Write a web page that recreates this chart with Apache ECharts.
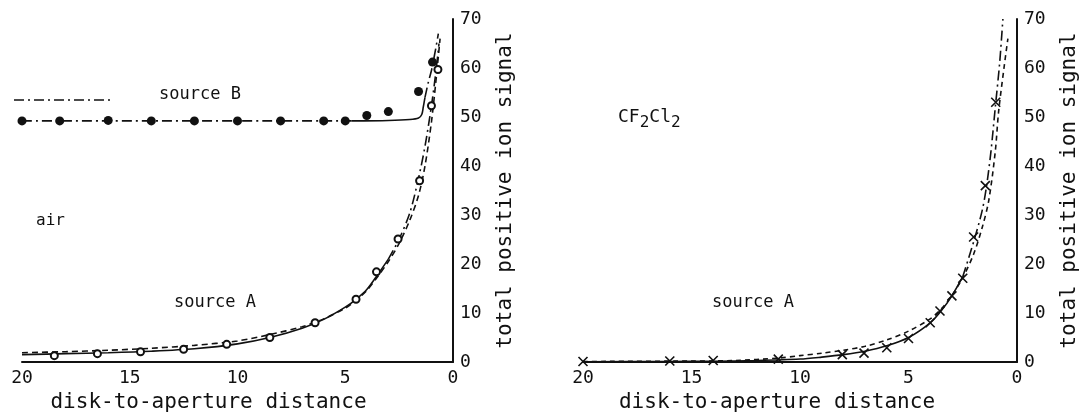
<!DOCTYPE html>
<html>
<head>
<meta charset="utf-8">
<script src="https://cdn.jsdelivr.net/npm/echarts@6/dist/echarts.min.js"></script>
<style>
  html, body { margin: 0; padding: 0; background: #fff; }
  #chart { width: 1080px; height: 412px; }
</style>
</head>
<body>
<div id="chart"></div>
<script>
// axis ticks (distance runs 20 -> 0, signal 0 -> 70)
const xTicks = [0, 5, 10, 15, 20];
const yTicks = [0, 10, 20, 30, 40, 50, 60, 70];

// left panel: air, source B (filled circles)
const airBX = [20, 18.25, 16, 14, 12, 10, 8, 6, 5, 4, 3, 1.6, 0.95];
const airBY = [49.2, 49.2, 49.3, 49.2, 49.2, 49.2, 49.2, 49.2, 49.2, 50.3, 51.1, 55.2, 61.2];
// source B fitted curve (dash-dot part, solid part, dash-dot top)
const airBFit1X = [20, 4.7];
const airBFit1Y = [49.2, 49.2];
const airBFit2X = [4.7, 3, 2, 1.6, 1.45, 1.38, 1.3];
const airBFit2Y = [49.2, 49.3, 49.5, 49.8, 50.5, 52, 54];
const airBFit3X = [1.3, 1.15, 1.0, 0.93, 0.8, 0.68];
const airBFit3Y = [54, 57, 59.5, 61, 64, 67];

// left panel: air, source A (open circles)
const airAX = [18.5, 16.5, 14.5, 12.5, 10.5, 8.5, 6.4, 4.5, 3.55, 2.55, 1.55, 1.0, 0.7];
const airAY = [1.3, 1.7, 2.1, 2.6, 3.6, 5.0, 8.0, 12.8, 18.4, 25.1, 37.0, 52.3, 59.7];
// source A curves
const airASolidX = [20, 18, 16, 14, 12, 10, 8.5, 7, 6, 5, 4.5, 4, 3.5, 3];
const airASolidY = [1.5, 1.7, 1.9, 2.2, 2.7, 3.7, 5.0, 6.9, 8.7, 11.2, 12.8, 14.8, 17.8, 21.0];
const airADashDotX = [3, 2.5, 2, 1.6, 1.3, 1.0, 0.8, 0.65];
const airADashDotY = [21.0, 25.1, 30.5, 37.5, 44, 52.3, 59, 65];
const airADashedX = [20, 18, 16, 14, 12, 10, 8.5, 7, 6, 5, 4.5, 4, 3.5, 3, 2.5, 2, 1.6, 1.3, 1.0, 0.8, 0.6];
const airADashedY = [1.9, 2.1, 2.4, 2.8, 3.4, 4.3, 5.6, 7.2, 8.8, 11.0, 12.6, 14.6, 17.4, 20.5, 24.2, 29, 34, 40, 49, 57, 66];

// right panel: CF2Cl2, source A (crosses)
const cfX = [20, 16, 14, 11, 8.05, 7.05, 6.0, 5.0, 4.0, 3.55, 3.0, 2.5, 2.0, 1.46, 0.98, 0.6];
const cfY = [0.1, 0.2, 0.3, 0.6, 1.5, 1.8, 2.9, 4.8, 8.0, 10.4, 13.5, 17.1, 25.5, 36, 53, 71];
const cfSolidX = [20, 16, 14, 12, 10, 9, 8, 7, 6, 5, 4, 3.5, 3, 2.5];
const cfSolidY = [0.05, 0.1, 0.15, 0.3, 0.6, 1.0, 1.5, 2.2, 3.3, 5.0, 8.0, 10.4, 13.5, 17.4];
const cfDashDotX = [2.5, 2.0, 1.6, 1.4, 1.2, 1.0, 0.8, 0.65];
const cfDashDotY = [17.4, 24.5, 31, 36, 43, 52, 61, 70];
const cfDashedX = [20, 15, 13, 11, 10, 9, 8, 7, 6, 5, 4, 3.5, 3, 2.5, 2, 1.6, 1.3, 1.0, 0.85, 0.6, 0.42];
const cfDashedY = [0.1, 0.2, 0.3, 0.8, 1.3, 1.8, 2.4, 3.2, 4.5, 6.3, 8.8, 10.8, 13.6, 17.2, 22, 27.5, 33, 43, 51, 60, 66];

const zip = (xs, ys) => xs.map((x, i) => [x, ys[i]]);

const ink = '#111';
const font = '"DejaVu Sans Mono", monospace';
const dashDot = [10, 4, 2, 4];

function makeX(idx) {
    return {
        type: 'value', gridIndex: idx, inverse: true,
        min: xTicks[0], max: xTicks[xTicks.length - 1], interval: xTicks[1] - xTicks[0],
        axisLine: { lineStyle: { color: ink, width: 2 } },
        axisTick: { show: false },
        splitLine: { show: false },
        axisLabel: { color: ink, fontSize: 18, fontFamily: font, margin: 7 },
        name: 'disk-to-aperture distance',
        nameLocation: 'middle',
        nameGap: 26,
        nameTextStyle: { color: ink, fontSize: 21, fontFamily: font, padding: [0, idx === 0 ? 58 : 46, 0, 0] }
    };
}

function makeY(idx) {
    return {
        type: 'value', gridIndex: idx, position: 'right',
        min: yTicks[0], max: yTicks[yTicks.length - 1], interval: yTicks[1] - yTicks[0],
        axisLine: { show: true, onZero: false, lineStyle: { color: ink, width: 2 } },
        axisTick: { show: false },
        splitLine: { show: false },
        axisLabel: { color: ink, fontSize: 18, fontFamily: font, margin: 7 },
        name: 'total positive ion signal',
        nameLocation: 'middle',
        nameRotate: 90,
        nameGap: 42,
        nameTextStyle: { color: ink, fontSize: 21, fontFamily: font }
    };
}

function curve(idx, xs, ys, type) {
    return {
        type: 'line', xAxisIndex: idx, yAxisIndex: idx,
        data: zip(xs, ys), smooth: 0.3, showSymbol: false, silent: true,
        lineStyle: { color: ink, width: 1.6, type: type },
        z: 2
    };
}

function points(idx, xs, ys, symbol, size, style) {
    return {
        type: 'scatter', xAxisIndex: idx, yAxisIndex: idx,
        data: zip(xs, ys), symbol: symbol, symbolSize: size,
        itemStyle: Object.assign({ opacity: 1 }, style), z: 5
    };
}

const chart = echarts.init(document.getElementById('chart'));

chart.setOption({
    animation: false,
    grid: [
        { left: 22, width: 431, top: 19, height: 343, outerBoundsMode: 'none' },
        { left: 583, width: 434, top: 19, height: 343, outerBoundsMode: 'none' }
    ],
    xAxis: [makeX(0), makeX(1)],
    yAxis: [makeY(0), makeY(1)],
    series: [
        curve(0, airBFit1X, airBFit1Y, dashDot),
        curve(0, airBFit2X, airBFit2Y, 'solid'),
        curve(0, airBFit3X, airBFit3Y, dashDot),
        curve(0, airASolidX, airASolidY, 'solid'),
        curve(0, airADashDotX, airADashDotY, dashDot),
        curve(0, airADashedX, airADashedY, [6, 4]),
        points(0, airBX, airBY, 'circle', 9, { color: ink }),
        points(0, airAX, airAY, 'emptyCircle', 7, { color: ink, borderColor: ink, borderWidth: 1.6 }),
        curve(1, cfSolidX, cfSolidY, 'solid'),
        curve(1, cfDashDotX, cfDashDotY, dashDot),
        curve(1, cfDashedX, cfDashedY, [5, 4]),
        points(1, cfX, cfY, 'path://M0,0L10,10M10,0L0,10', 9,
            { color: 'none', borderColor: ink, borderWidth: 1.6 })
    ],
    graphic: [
        { type: 'line', shape: { x1: 14, y1: 100, x2: 111, y2: 100 },
          style: { stroke: ink, lineWidth: 1.6, lineDash: dashDot } },
        { type: 'text', left: 159, top: 86,
          style: { text: 'source B', fill: ink, font: '17px ' + font } },
        { type: 'text', left: 36, top: 213,
          style: { text: 'air', fill: ink, font: '16px ' + font } },
        { type: 'text', left: 174, top: 294,
          style: { text: 'source A', fill: ink, font: '17px ' + font } },
        { type: 'text', left: 618, top: 108,
          style: {
              text: '{a|CF}{b|2}{a|Cl}{b|2}',
              rich: {
                  a: { fill: ink, fontSize: 18, fontFamily: font },
                  b: { fill: ink, fontSize: 16, fontFamily: font, padding: [12, 0, 0, 0] }
              }
          } },
        { type: 'text', left: 712, top: 294,
          style: { text: 'source A', fill: ink, font: '17px ' + font } }
    ]
});
</script>
</body>
</html>
